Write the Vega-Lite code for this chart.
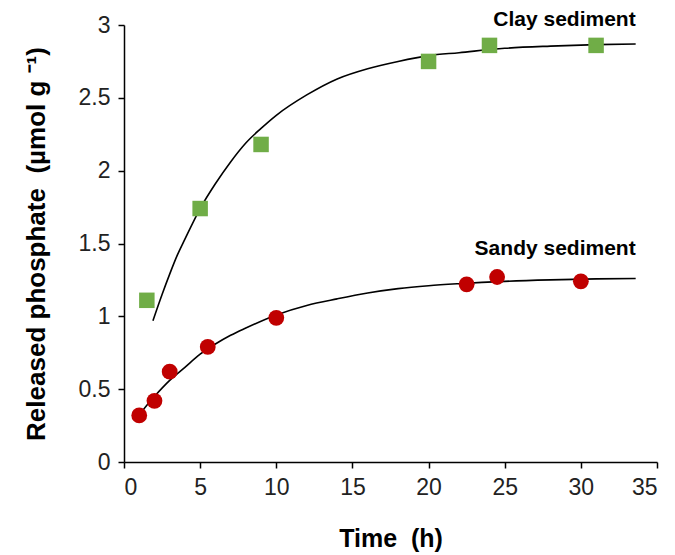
{
  "$schema": "https://vega.github.io/schema/vega-lite/v6.json",
  "autosize": {"type": "none"},
  "padding": {"left": 124, "top": 25, "right": 18, "bottom": 93},
  "width": 533,
  "height": 437,
  "background": "white",
  "config": {
    "view": {"stroke": null},
    "font": "Liberation Sans",
    "axis": {
      "grid": false,
      "domainColor": "black",
      "domainWidth": 1.5,
      "tickColor": "black",
      "tickWidth": 1.5,
      "tickSize": 6,
      "labelFont": "Liberation Sans",
      "labelFontSize": 23,
      "labelColor": "#222222",
      "labelPadding": 8,
      "titleFont": "Liberation Sans",
      "titleFontSize": 25,
      "titleFontWeight": "bold",
      "titleColor": "black"
    }
  },
  "datasets": {
    "points": [
      {"sediment": "Clay", "time": 1.5, "p": 1.11},
      {"sediment": "Clay", "time": 5, "p": 1.74},
      {"sediment": "Clay", "time": 9, "p": 2.18},
      {"sediment": "Clay", "time": 20, "p": 2.75},
      {"sediment": "Clay", "time": 24, "p": 2.86},
      {"sediment": "Clay", "time": 31, "p": 2.86},
      {"sediment": "Sandy", "time": 1, "p": 0.32},
      {"sediment": "Sandy", "time": 2, "p": 0.42},
      {"sediment": "Sandy", "time": 3, "p": 0.62},
      {"sediment": "Sandy", "time": 5.5, "p": 0.79},
      {"sediment": "Sandy", "time": 10, "p": 0.99},
      {"sediment": "Sandy", "time": 22.5, "p": 1.22},
      {"sediment": "Sandy", "time": 24.5, "p": 1.27},
      {"sediment": "Sandy", "time": 30, "p": 1.24}
    ],
    "curves": [
      {"sediment": "Clay", "time": 1.9, "p": 0.97},
      {"sediment": "Clay", "time": 2.5, "p": 1.15},
      {"sediment": "Clay", "time": 3, "p": 1.29},
      {"sediment": "Clay", "time": 3.5, "p": 1.42},
      {"sediment": "Clay", "time": 4, "p": 1.53},
      {"sediment": "Clay", "time": 5, "p": 1.74},
      {"sediment": "Clay", "time": 6, "p": 1.91},
      {"sediment": "Clay", "time": 7, "p": 2.06},
      {"sediment": "Clay", "time": 8, "p": 2.19},
      {"sediment": "Clay", "time": 9, "p": 2.29},
      {"sediment": "Clay", "time": 10, "p": 2.38},
      {"sediment": "Clay", "time": 12, "p": 2.52},
      {"sediment": "Clay", "time": 14, "p": 2.63},
      {"sediment": "Clay", "time": 16, "p": 2.70},
      {"sediment": "Clay", "time": 18, "p": 2.75},
      {"sediment": "Clay", "time": 20, "p": 2.79},
      {"sediment": "Clay", "time": 22, "p": 2.81},
      {"sediment": "Clay", "time": 25, "p": 2.84},
      {"sediment": "Clay", "time": 28, "p": 2.855},
      {"sediment": "Clay", "time": 31, "p": 2.865},
      {"sediment": "Clay", "time": 33.6, "p": 2.87},
      {"sediment": "Sandy", "time": 0.85, "p": 0.30},
      {"sediment": "Sandy", "time": 1.5, "p": 0.39},
      {"sediment": "Sandy", "time": 2, "p": 0.45},
      {"sediment": "Sandy", "time": 3, "p": 0.56},
      {"sediment": "Sandy", "time": 4, "p": 0.65},
      {"sediment": "Sandy", "time": 5, "p": 0.74},
      {"sediment": "Sandy", "time": 6, "p": 0.81},
      {"sediment": "Sandy", "time": 7, "p": 0.87},
      {"sediment": "Sandy", "time": 8, "p": 0.92},
      {"sediment": "Sandy", "time": 10, "p": 1.01},
      {"sediment": "Sandy", "time": 12, "p": 1.075},
      {"sediment": "Sandy", "time": 14, "p": 1.12},
      {"sediment": "Sandy", "time": 16, "p": 1.16},
      {"sediment": "Sandy", "time": 18, "p": 1.19},
      {"sediment": "Sandy", "time": 20, "p": 1.21},
      {"sediment": "Sandy", "time": 22, "p": 1.224},
      {"sediment": "Sandy", "time": 25, "p": 1.24},
      {"sediment": "Sandy", "time": 28, "p": 1.25},
      {"sediment": "Sandy", "time": 31, "p": 1.257},
      {"sediment": "Sandy", "time": 33.6, "p": 1.26}
    ],
    "labels": [
      {"text": "Clay sediment", "time": 33.6, "p": 2.99},
      {"text": "Sandy sediment", "time": 33.6, "p": 1.42}
    ]
  },
  "encoding": {
    "x": {
      "field": "time", "type": "quantitative",
      "scale": {"domain": [0, 35], "nice": false},
      "axis": {"title": "Time \u00a0(h)", "values": [0, 5, 10, 15, 20, 25, 30, 35], "titlePadding": 27}
    },
    "y": {
      "field": "p", "type": "quantitative",
      "scale": {"domain": [0, 3], "nice": false},
      "axis": {"title": "Released phosphate \u00a0(µmol g \u207b\u00b9)", "titleFontSize": 26, "values": [0, 0.5, 1, 1.5, 2, 2.5, 3], "format": "~g", "titlePadding": 29}
    }
  },
  "layer": [
    {
      "data": {"name": "curves"},
      "mark": {"type": "line", "color": "black", "strokeWidth": 1.6, "interpolate": "monotone"},
      "encoding": {"detail": {"field": "sediment"}}
    },
    {
      "data": {"name": "points"},
      "transform": [{"filter": "datum.sediment === 'Clay'"}],
      "mark": {"type": "point", "shape": "square", "filled": true, "color": "#70AD47", "opacity": 1, "size": 240}
    },
    {
      "data": {"name": "points"},
      "transform": [{"filter": "datum.sediment === 'Sandy'"}],
      "mark": {"type": "point", "shape": "circle", "filled": true, "color": "#C00000", "opacity": 1, "size": 250}
    },
    {
      "data": {"name": "labels"},
      "mark": {"type": "text", "align": "right", "baseline": "alphabetic", "font": "Liberation Sans", "fontSize": 21, "fontWeight": "bold", "color": "black"},
      "encoding": {"text": {"field": "text"}}
    }
  ]
}
